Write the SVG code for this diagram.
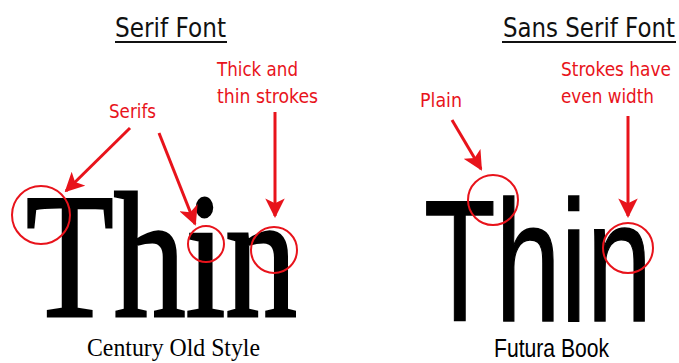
<svg xmlns="http://www.w3.org/2000/svg" width="679" height="363" viewBox="0 0 679 363">
<style>
.title{font-family:"DejaVu Sans",Verdana,sans-serif;font-size:26px;fill:#111}
.ul{stroke:#111;stroke-width:2}
.lbl{font-family:"DejaVu Sans",Verdana,sans-serif;font-size:20px;fill:#e8131b}
.arr{stroke:#e8131b;stroke-width:3;fill:none;marker-end:url(#ah)}
.ring{stroke:#e8131b;stroke-width:2;fill:none}
.big{fill:#000;stroke:#000}
</style>
<defs>
<marker id="ah" viewBox="0 0 10 10" refX="9" refY="5" markerWidth="6.5" markerHeight="6.5" orient="auto" markerUnits="strokeWidth">
<path d="M0,0 L10,5 L0,10 L2.5,5 Z" fill="#e8131b"/>
</marker>
</defs>
<rect width="679" height="363" fill="#fff"/>
<g id="serif-title">
<text class="title" x="115" y="37" textLength="111" lengthAdjust="spacingAndGlyphs">Serif Font</text>
<line class="ul" x1="115" y1="42" x2="227" y2="42"/>
</g>
<g id="sans-title">
<text class="title" x="503" y="37" textLength="172" lengthAdjust="spacingAndGlyphs">Sans Serif Font</text>
<line class="ul" x1="502" y1="42" x2="676" y2="42"/>
</g>
<g id="serif-word">
<text class="big" x="26" y="316" stroke-width="3" font-family="'Liberation Serif','Times New Roman',serif" font-size="178" textLength="271" lengthAdjust="spacingAndGlyphs">Thin</text>
<text x="87" y="356" font-family="'Liberation Serif','Times New Roman',serif" font-size="26" fill="#000" textLength="173" lengthAdjust="spacingAndGlyphs">Century Old Style</text>
</g>
<g id="sans-word">
<text class="big" x="424" y="321" stroke-width="1.5" font-family="'Liberation Sans',Arial,sans-serif" font-size="172" textLength="228" lengthAdjust="spacingAndGlyphs">Thin</text>
<text x="494" y="357" font-family="'Liberation Sans',Arial,sans-serif" font-size="25" fill="#000" textLength="115" lengthAdjust="spacingAndGlyphs">Futura Book</text>
</g>
<g id="label-serifs"><text class="lbl" x="109" y="118" textLength="47" lengthAdjust="spacingAndGlyphs">Serifs</text></g>
<g id="label-thick">
<text class="lbl" x="217" y="76" textLength="81" lengthAdjust="spacingAndGlyphs">Thick and</text>
<text class="lbl" x="217" y="103" textLength="101" lengthAdjust="spacingAndGlyphs">thin strokes</text>
</g>
<g id="label-plain"><text class="lbl" x="420" y="107" textLength="42" lengthAdjust="spacingAndGlyphs">Plain</text></g>
<g id="label-even">
<text class="lbl" x="561" y="76" textLength="110" lengthAdjust="spacingAndGlyphs">Strokes have</text>
<text class="lbl" x="561" y="103" textLength="93" lengthAdjust="spacingAndGlyphs">even width</text>
</g>
<g id="rings">
<circle class="ring" cx="41" cy="215" r="29"/>
<circle class="ring" cx="206" cy="244" r="18"/>
<circle class="ring" cx="274" cy="250" r="23"/>
<circle class="ring" cx="493" cy="200" r="25"/>
<circle class="ring" cx="628" cy="248" r="25"/>
</g>
<g id="connectors">
<line class="arr" x1="130" y1="128" x2="66" y2="191"/>
<line class="arr" x1="159" y1="133" x2="195" y2="224"/>
<line class="arr" x1="275" y1="112" x2="275" y2="216"/>
<line class="arr" x1="452" y1="120" x2="481" y2="169"/>
<line class="arr" x1="628" y1="116" x2="628" y2="216"/>
</g>
</svg>
